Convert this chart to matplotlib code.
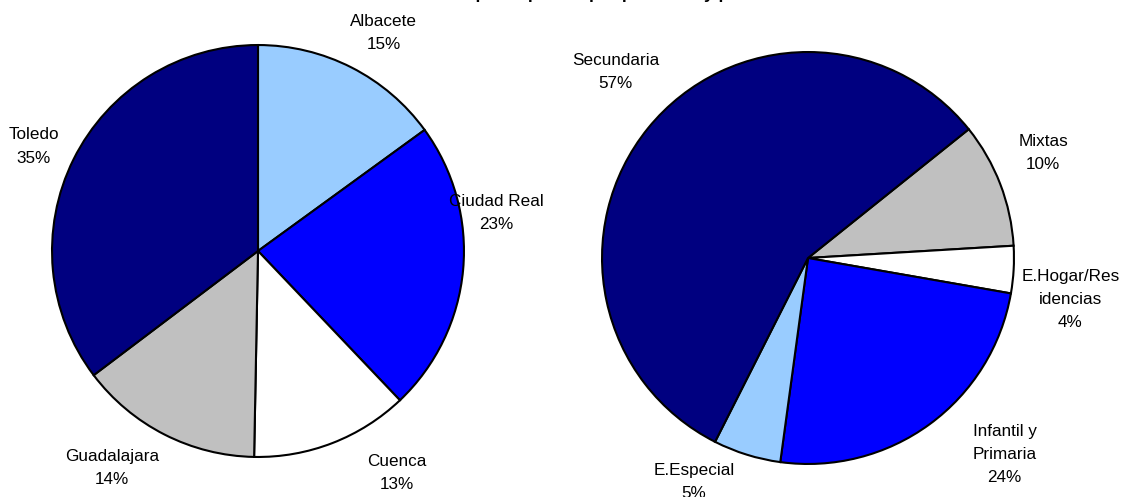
import matplotlib.pyplot as plt
import numpy as np

plt.rcParams['font.family'] = ['Liberation Sans', 'DejaVu Sans']

# datos: provincias
prov_labels = ['Albacete', 'Ciudad Real', 'Cuenca', 'Guadalajara', 'Toledo']
prov_values = [15, 22.9, 12.4, 14.4, 35.3]
prov_colors = ['#99CCFF', '#0000FF', '#FFFFFF', '#C0C0C0', '#000080']
prov_pct = ['15%', '23%', '13%', '14%', '35%']

# datos: tipo de centro
tipo_labels = ['Mixtas', 'E.Hogar/Res\nidencias', 'Infantil y\nPrimaria', 'E.Especial', 'Secundaria']
tipo_values = [9.8, 3.7, 24.4, 5.3, 56.8]
tipo_colors = ['#C0C0C0', '#FFFFFF', '#0000FF', '#99CCFF', '#000080']
tipo_pct = ['10%', '4%', '24%', '5%', '57%']

# posicion de las etiquetas (angulo en grados, distancia en radios)
prov_lab_ang = [60, 9, -58, -124, 155]
prov_lab_dist = [1.22, 1.17, 1.27, 1.27, 1.20]
tipo_lab_ang = [24, -9, -45, -117, 136]
tipo_lab_dist = [1.25, 1.29, 1.35, 1.22, 1.30]

W, H = 1125, 497
fig = plt.figure(figsize=(W / 100, H / 100), dpi=100)


def pie_axes(cx, cy, r):
    return fig.add_axes([(cx - r) / W, (H - cy - r) / H, 2 * r / W, 2 * r / H])


def draw(ax, values, colors, labels, pcts, start, angs, dists):
    ax.pie(values, colors=colors, startangle=start, counterclock=False,
           radius=1, wedgeprops=dict(edgecolor='black', linewidth=1.5))
    for lab, pct, a, d in zip(labels, pcts, angs, dists):
        t = np.deg2rad(a)
        ax.text(d * np.cos(t), d * np.sin(t), lab + '\n' + pct, ha='center', va='center',
                fontsize=12.3, linespacing=1.68, clip_on=False)
    ax.set_xlim(-1.005, 1.005)
    ax.set_ylim(-1.005, 1.005)
    ax.axis('off')


ax1 = pie_axes(258, 251, 207)
draw(ax1, prov_values, prov_colors, prov_labels, prov_pct, 90, prov_lab_ang, prov_lab_dist)

ax2 = pie_axes(808, 258, 207)
draw(ax2, tipo_values, tipo_colors, tipo_labels, tipo_pct, 38.7, tipo_lab_ang, tipo_lab_dist)

# titulo cortado en la parte superior
fig.text(0.57, 1 + 1.0 / H, 'Centros participantes por provincia y por nivel educativo',
         ha='center', va='baseline', fontsize=12.5, fontweight='bold')

fig.savefig('out.png', dpi=100)
